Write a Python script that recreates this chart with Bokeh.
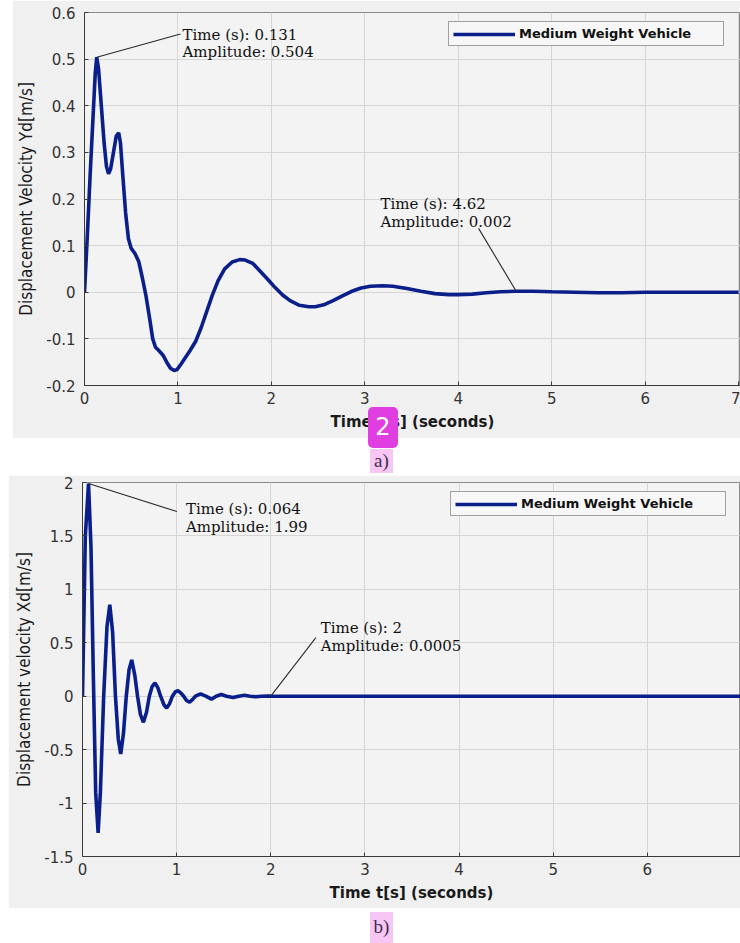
from bokeh.plotting import figure
from bokeh.models import FixedTicker, Div, Spacer
from bokeh.layouts import column, row
from bokeh.embed import file_html
from bokeh.resources import INLINE
from bokeh.core.properties import value

# ---------------- data ----------------
# a) vertical displacement velocity Yd
ya_time = [0.00, 0.03, 0.06, 0.09, 0.115, 0.131, 0.15, 0.18, 0.21, 0.235, 0.257,
           0.28, 0.31, 0.34, 0.366, 0.385, 0.41, 0.44, 0.47, 0.50, 0.54, 0.58,
           0.62, 0.66, 0.70, 0.73, 0.76, 0.80, 0.84, 0.88, 0.92, 0.96, 0.99,
           1.03, 1.08, 1.13, 1.19, 1.25, 1.31, 1.37, 1.43, 1.50, 1.58, 1.66,
           1.72, 1.80, 1.88, 1.96, 2.04, 2.12, 2.20, 2.30, 2.40, 2.47, 2.56,
           2.66, 2.76, 2.86, 2.96, 3.06, 3.19, 3.30, 3.45, 3.60, 3.75, 3.90,
           4.00, 4.15, 4.30, 4.45, 4.62, 4.80, 5.00, 5.25, 5.50, 5.75, 6.00,
           6.50, 7.00]
ya_vel = [0.000, 0.120, 0.250, 0.370, 0.470, 0.504, 0.480, 0.400, 0.320, 0.270, 0.254,
          0.265, 0.300, 0.335, 0.342, 0.320, 0.250, 0.170, 0.115, 0.094, 0.083, 0.066,
          0.030, -0.010, -0.060, -0.100, -0.118, -0.126, -0.135, -0.150, -0.163, -0.168, -0.166,
          -0.155, -0.140, -0.125, -0.105, -0.075, -0.040, -0.005, 0.025, 0.050, 0.065, 0.070,
          0.069, 0.062, 0.045, 0.028, 0.010, -0.006, -0.018, -0.028, -0.031, -0.031, -0.027,
          -0.018, -0.008, 0.002, 0.009, 0.013, 0.014, 0.013, 0.008, 0.002, -0.003, -0.005,
          -0.005, -0.004, -0.001, 0.001, 0.002, 0.002, 0.001, 0.000, -0.001, -0.001, 0.000,
          0.000, 0.000]

# b) horizontal displacement velocity Xd
xb_time = [0.000, 0.030, 0.064, 0.090, 0.115, 0.140, 0.166, 0.190, 0.225, 0.260, 0.290,
           0.320, 0.350, 0.380, 0.406, 0.435, 0.465, 0.495, 0.523, 0.555, 0.585, 0.615,
           0.647, 0.680, 0.710, 0.740, 0.770, 0.800, 0.830, 0.865, 0.894, 0.925, 0.955,
           0.985, 1.014, 1.045, 1.075, 1.105, 1.138, 1.170, 1.200, 1.254, 1.310, 1.370,
           1.420, 1.474, 1.530, 1.600, 1.660, 1.720, 1.780, 1.840, 1.900, 1.960, 2.000,
           2.500, 3.000, 4.000, 5.000, 6.000, 7.000]
xb_vel = [0.00, 1.50, 1.99, 1.40, 0.20, -0.90, -1.28, -0.90, 0.00, 0.65, 0.856,
          0.60, 0.00, -0.40, -0.54, -0.35, 0.00, 0.25, 0.34, 0.20, 0.00, -0.17,
          -0.244, -0.15, 0.00, 0.09, 0.125, 0.08, 0.00, -0.08, -0.11, -0.07, 0.00,
          0.04, 0.053, 0.03, 0.00, -0.04, -0.056, -0.03, 0.00, 0.022, 0.00, -0.028,
          0.00, 0.016, 0.00, -0.013, 0.00, 0.009, 0.00, -0.005, 0.00, 0.002, 0.0005,
          0.00, 0.00, 0.00, 0.00, 0.00, 0.00]

x_ticks = [0, 1, 2, 3, 4, 5, 6, 7]
x_tick_labels = ["0", "1", "2", "3", "4", "5", "6", "7"]
ya_ticks = [-0.2, -0.1, 0, 0.1, 0.2, 0.3, 0.4, 0.5, 0.6]
ya_tick_labels = ["-0.2", "-0.1", "0", "0.1", "0.2", "0.3", "0.4", "0.5", "0.6"]
xb_ticks = [-1.5, -1, -0.5, 0, 0.5, 1, 1.5, 2]
xb_tick_labels = ["-1.5", "-1", "-0.5", "0", "0.5", "1", "1.5", "2"]

series_name = "Medium Weight Vehicle"
x_title = "Time t[s] (seconds)"
ya_title = "Displacement Velocity Yd[m/s]"
xb_title = "Displacement velocity Xd[m/s]"

# data tips: (time, amplitude, time text, amplitude text)
a_tips = [(0.131, 0.504, "0.131", "0.504"), (4.62, 0.002, "4.62", "0.002")]
b_tips = [(0.064, 1.99, "0.064", "1.99"), (2, 0.0005, "2", "0.0005")]

# ---------------- styling ----------------
BG = "#f0f0f0"
PLOT_BG = "#f3f3f3"
LINE = "#0a1f8a"
SANS = "DejaVu Sans"
SERIF = "DejaVu Serif"


def panel(width, height, x_end, y_rng, yticks, ylabels, ytitle, borders):
    left, top, bottom = borders
    p = figure(width=width, height=height, x_range=(0, x_end), y_range=y_rng,
               output_backend="svg", toolbar_location=None,
               min_border_left=left, min_border_right=0, min_border_top=top,
               min_border_bottom=bottom)
    p.background_fill_color = PLOT_BG
    p.border_fill_color = BG
    p.outline_line_color = "#8a8a8a"

    p.xaxis.ticker = FixedTicker(ticks=x_ticks)
    p.xaxis.major_label_overrides = {t: s for t, s in zip(x_ticks, x_tick_labels)}
    p.yaxis.ticker = FixedTicker(ticks=yticks)
    p.yaxis.major_label_overrides = {t: s for t, s in zip(yticks, ylabels)}
    p.xgrid.ticker = FixedTicker(ticks=x_ticks)
    p.ygrid.ticker = FixedTicker(ticks=yticks)
    for g in (p.xgrid, p.ygrid):
        g.grid_line_color = "#d6d6d6"
        g.grid_line_width = 1

    for ax in (p.xaxis, p.yaxis):
        ax.axis_line_color = "#3a3a3a"
        ax.major_tick_line_color = "#3a3a3a"
        ax.major_tick_in = 4
        ax.major_tick_out = 0
        ax.minor_tick_line_color = None
        ax.major_label_text_font = SANS
        ax.major_label_text_font_size = "15px"
        ax.major_label_text_color = "#333333"
    p.xaxis.major_label_standoff = 6
    p.yaxis.major_label_standoff = 9

    p.xaxis.axis_label = x_title
    p.xaxis.axis_label_text_font = SANS
    p.xaxis.axis_label_text_font_style = "bold"
    p.xaxis.axis_label_text_font_size = "15px"
    p.xaxis.axis_label_text_color = "#1a1a1a"
    p.xaxis.axis_label_standoff = 6

    p.yaxis.axis_label = ytitle
    p.yaxis.axis_label_text_font = "DejaVu Sans Condensed"
    p.yaxis.axis_label_text_font_style = "normal"
    p.yaxis.axis_label_text_font_size = "17px"
    p.yaxis.axis_label_text_color = "#1a1a1a"
    p.yaxis.axis_label_standoff = 7
    return p


# ---------- a) ----------
pa = panel(728, 438, 7.02, (-0.2, 0.6), ya_ticks, ya_tick_labels, ya_title, (72, 12, 53))
pa.line(ya_time, ya_vel, line_color=LINE, line_width=3.6, legend_label=series_name)

# ---------- b) ----------
pb = panel(732, 433, 6.99, (-1.5, 2.0), xb_ticks, xb_tick_labels, xb_title, (74, 7, 52))
pb.line(xb_time, xb_vel, line_color=LINE, line_width=3.6, legend_label=series_name)

# leader end points and text anchors (data coords)
a_leader = [(1.027, 0.554), (4.217, 0.137)]
a_text = [(1.049, 0.572, 0.534), (3.168, 0.208, 0.170)]
b_leader = [(1.003, 1.728), (2.479, 0.549)]
b_text = [(1.099, 1.84, 1.665), (2.53, 0.725, 0.556)]

for p, tips, leaders, texts in ((pa, a_tips, a_leader, a_text), (pb, b_tips, b_leader, b_text)):
    for (tx, ty, ts, amp), (lx, ly), (px, py1, py2) in zip(tips, leaders, texts):
        p.line([tx, lx], [ty, ly], line_color="#2a2a2a", line_width=1.1)
        p.text(x=[px], y=[py1], text=["Time (s): " + ts], text_font=value(SERIF),
               text_font_size="15px", text_color="#111111",
               text_baseline="top", text_align="left")
        p.text(x=[px], y=[py2], text=["Amplitude: " + amp], text_font=value(SERIF),
               text_font_size="15px", text_color="#111111",
               text_baseline="top", text_align="left")

for p, lx, ly in ((pa, 364, 339), (pb, 368, 340)):
    lg = p.legend[0]
    lg.location = (lx, ly)
    lg.border_line_color = "#4a4a4a"
    lg.border_line_width = 1
    lg.background_fill_color = "#f7f7f7"
    lg.background_fill_alpha = 1
    lg.label_text_font = SANS
    lg.label_text_font_style = "bold"
    lg.label_text_font_size = "13px"
    lg.label_text_color = "#111111"
    lg.glyph_width = 62
    lg.glyph_height = 14
    lg.label_height = 14
    lg.label_width = 200
    lg.label_standoff = 4
    lg.padding = 4
    lg.margin = 0
    lg.spacing = 0

# "a)" caption with the magenta badge that sits over the a) x-axis title
div_a = Div(text=(
    '<div style="position:relative;width:740px;height:37px;background:#ffffff;overflow:visible;">'
    '<div style="position:absolute;left:368px;top:-31px;width:30px;height:41px;'
    'background:#e03ee0;border-radius:5px;color:#ffffff;font-family:\'DejaVu Sans\';'
    'font-size:24px;line-height:41px;text-align:center;">2</div>'
    '<span style="position:absolute;left:370px;top:11px;width:23px;height:24px;'
    'background:#f7c6f5;font-family:\'Liberation Serif\';font-size:19px;'
    'line-height:24px;color:#3b2f48;text-align:center;">a)</span></div>'),
    width=740, height=37, margin=0, styles={"overflow": "visible", "z-index": "5"})

div_b = Div(text=(
    '<div style="position:relative;width:740px;height:35px;background:#ffffff;">'
    '<span style="position:absolute;left:370px;top:4px;width:23px;height:31px;'
    'background:#f7c6f5;font-family:\'Liberation Serif\';font-size:19px;'
    'line-height:30px;color:#3b2f48;text-align:center;">b)</span></div>'),
    width=740, height=35, margin=0)

layout = column(
    row(Spacer(width=12, height=438, margin=0), pa, margin=0, spacing=0),
    div_a,
    row(Spacer(width=8, height=433, margin=0), pb, margin=0, spacing=0),
    div_b,
    margin=0, spacing=0)

open("out.html", "w").write(file_html(layout, INLINE))
